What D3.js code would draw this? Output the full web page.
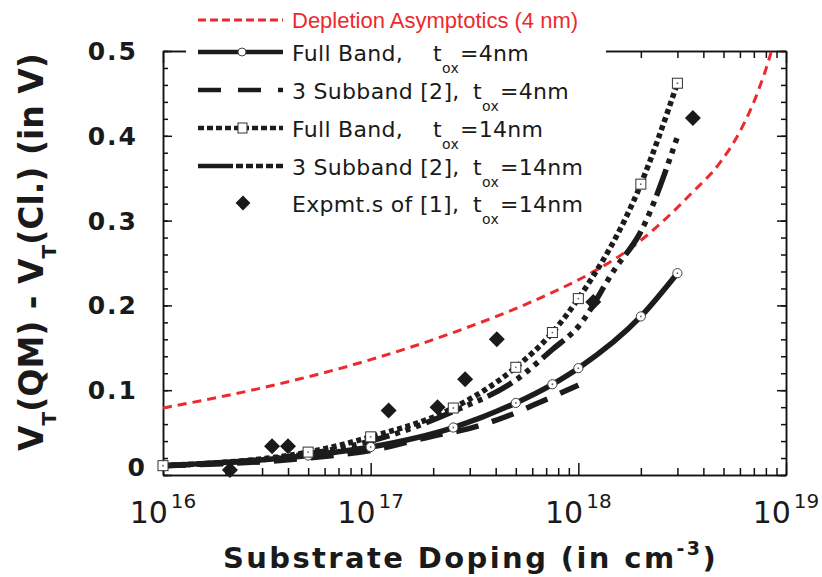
<!DOCTYPE html>
<html>
<head>
<meta charset="utf-8">
<script src="https://cdn.jsdelivr.net/npm/d3@7"></script>
<style>
body { margin: 0; background: #fff; }
svg text { font-family: "DejaVu Sans", sans-serif; fill: #1a1a1a; }
.axis path, .axis line { stroke: #111; stroke-width: 1.5; }
</style>
</head>
<body>
<svg width="822" height="577"></svg>
<script>
// values: doping in cm^-3, Vt shift in V
const fb4Doping = [1e16, 5e16, 1e17, 2.5e17, 5e17, 7.5e17, 1e18, 2e18, 3e18];
const fb4Shift = [0.011, 0.023, 0.033, 0.056, 0.085, 0.107, 0.126, 0.187, 0.238];
const sb4Doping = [1e16, 5e16, 1e17, 2e17, 3e17, 4.5e17, 6.7e17, 1e18];
const sb4Shift = [0.011, 0.020, 0.029, 0.046, 0.055, 0.069, 0.087, 0.106];
const fb14Doping = [1e16, 5e16, 1e17, 2.5e17, 5e17, 7.5e17, 1e18, 2e18, 3e18];
const fb14Shift = [0.011, 0.027, 0.045, 0.079, 0.127, 0.168, 0.208, 0.343, 0.462];
const sb14Doping = [1e16, 5e16, 1e17, 2.5e17, 5e17, 7.5e17, 1e18, 1.5e18, 2e18, 3e18];
const sb14Shift = [0.011, 0.025, 0.040, 0.075, 0.112, 0.148, 0.175, 0.243, 0.287, 0.399];
const deplDoping = [1e16, 3.16e16, 1e17, 2.5e17, 7e17, 1.15e18, 1.8e18, 2.5e18, 3.5e18, 4.8e18, 6e18, 7.4e18, 8.5e18, 9e18];
const deplShift = [0.079, 0.104, 0.136, 0.168, 0.212, 0.238, 0.268, 0.297, 0.332, 0.368, 0.405, 0.455, 0.500, 0.525];
const expDoping = [2.1e16, 3.35e16, 4.0e16, 1.22e17, 2.1e17, 2.85e17, 4.05e17, 1.18e18, 3.56e18];
const expShift = [0.006, 0.034, 0.034, 0.076, 0.080, 0.113, 0.160, 0.204, 0.421];

const yTicks = [0, 0.1, 0.2, 0.3, 0.4, 0.5];
const xDecades = [16, 17, 18, 19];
const legendLabels = ["Full Band,", "3 Subband [2],", "Full Band,", "3 Subband [2],", "Expmt.s of [1],"];
const legendSuffix = ["=4nm", "=4nm", "=14nm", "=14nm", "=14nm"];

const svg = d3.select("svg");
const L = 163, R = 786, T = 51, B = 475;
const x = d3.scaleLog().domain([1e16, 1e19]).range([L, R]);
const y = d3.scaleLinear().domain([0, 0.5]).range([B, T]);
const zip = (a, b) => a.map((d, i) => [d, b[i]]);

const minorX = [];
for (let e = 16; e < 19; e++) for (let m = 2; m <= 9; m++) minorX.push(m * Math.pow(10, e));
const minorY = d3.range(0, 0.501, 0.02);

function ax(gen, tx, ty) {
  svg.append("g").attr("class", "axis").attr("transform", `translate(${tx},${ty})`)
    .call(gen).call(g => g.selectAll("text").remove());
}
// minor then major ticks, all pointing inward
ax(d3.axisBottom(x).tickValues(minorX).tickSizeInner(-7).tickSizeOuter(0), 0, B);
ax(d3.axisBottom(x).tickValues(xDecades.map(e => Math.pow(10, e))).tickSizeInner(-12).tickSizeOuter(0), 0, B);
ax(d3.axisTop(x).tickValues(minorX).tickSizeInner(-7).tickSizeOuter(0), 0, T);
ax(d3.axisTop(x).tickValues(xDecades.map(e => Math.pow(10, e))).tickSizeInner(-12).tickSizeOuter(0), 0, T);
ax(d3.axisLeft(y).tickValues(minorY).tickSizeInner(-5).tickSizeOuter(0), L, 0);
ax(d3.axisLeft(y).tickValues(yTicks).tickSizeInner(-9).tickSizeOuter(0), L, 0);
ax(d3.axisRight(y).tickValues(minorY).tickSizeInner(-5).tickSizeOuter(0), R, 0);
ax(d3.axisRight(y).tickValues(yTicks).tickSizeInner(-9).tickSizeOuter(0), R, 0);

// y tick labels
svg.append("g").selectAll("text").data(yTicks).join("text")
  .attr("x", d => d === 0 ? 147 : 138)
  .attr("y", d => y(d) + (d === 0 ? 1 : 9))
  .attr("text-anchor", "end")
  .style("font-size", "25px").style("font-weight", "bold").style("letter-spacing", "2px")
  .text(d => d === 0 ? "0" : d3.format(".1f")(d));

// x tick labels 10^n
const xl = svg.append("g").selectAll("text").data(xDecades).join("text")
  .attr("x", d => x(Math.pow(10, d)))
  .attr("y", 523)
  .attr("text-anchor", "middle")
  .style("font-size", "30px");
xl.append("tspan").text("10");
xl.append("tspan").attr("dy", -15).attr("dx", 3).style("font-size", "20px").text(d => d);

// axis titles
const xt = svg.append("text").attr("x", (L + R) / 2 - 4).attr("y", 568).attr("text-anchor", "middle")
  .style("font-size", "29px").style("font-weight", "bold").style("letter-spacing", "2.4px");
xt.append("tspan").text("Substrate Doping (in cm");
xt.append("tspan").attr("dy", -13).style("font-size", "19px").text("-3");
xt.append("tspan").attr("dy", 13).text(")");

const yt = svg.append("text").attr("transform", "rotate(-90)").attr("x", -252).attr("y", 43)
  .attr("text-anchor", "middle").style("font-size", "33px").style("font-weight", "bold")
  .style("white-space", "pre");
yt.append("tspan").text("V");
yt.append("tspan").attr("dy", 13).style("font-size", "20px").text("T");
yt.append("tspan").attr("dy", -13).text("(QM) - V");
yt.append("tspan").attr("dy", 13).style("font-size", "20px").text("T");
yt.append("tspan").attr("dy", -13).text("(Cl.) (in V)");

// data
svg.append("clipPath").attr("id", "plot").append("rect")
  .attr("x", L).attr("y", T).attr("width", R - L).attr("height", B - T);
const plot = svg.append("g").attr("clip-path", "url(#plot)");
const marks = svg.append("g");
const line = d3.line().x(d => x(d[0])).y(d => y(d[1])).curve(d3.curveMonotoneX);

const series = [
  { pts: zip(deplDoping, deplShift), color: "#ec2a2e", w: 3, dash: "9,6" },
  { pts: zip(sb4Doping, sb4Shift), color: "#1c1c1c", w: 5.5, dash: "23,14" },
  { pts: zip(sb14Doping, sb14Shift), color: "#1c1c1c", w: 5.5, dash: "28,6,5,6,5,6,5,6" },
  { pts: zip(fb14Doping, fb14Shift), color: "#1c1c1c", w: 5.5, dash: "5,3.5" },
  { pts: zip(fb4Doping, fb4Shift), color: "#1c1c1c", w: 5.5, dash: null }
];
series.forEach(s => {
  plot.append("path").datum(s.pts).attr("d", line)
    .attr("fill", "none").attr("stroke", s.color).attr("stroke-width", s.w)
    .attr("stroke-dasharray", s.dash);
});

const diamond = d3.symbol(d3.symbolSquare, 128);
marks.append("g").selectAll("path").data(zip(expDoping, expShift)).join("path")
  .attr("d", diamond)
  .attr("transform", d => `translate(${x(d[0])},${y(d[1])}) rotate(45)`)
  .attr("fill", "#1a1a1a");

const fb4Marks = marks.append("g").selectAll("g").data(zip(fb4Doping, fb4Shift)).join("g")
  .attr("transform", d => `translate(${x(d[0])},${y(d[1])})`);
fb4Marks.append("circle").attr("r", 4.6).attr("fill", "#fff").attr("stroke", "#444").attr("stroke-width", 1);
fb4Marks.append("circle").attr("r", 0.9).attr("fill", "#666");

const fb14Marks = marks.append("g").selectAll("g").data(zip(fb14Doping, fb14Shift)).join("g")
  .attr("transform", d => `translate(${x(d[0])},${y(d[1])})`);
fb14Marks.append("rect").attr("x", -5).attr("y", -5).attr("width", 10).attr("height", 10)
  .attr("fill", "#fff").attr("stroke", "#333").attr("stroke-width", 1);
fb14Marks.append("circle").attr("r", 0.9).attr("fill", "#666");

// legend
svg.append("rect").attr("x", 186).attr("y", 36).attr("width", 420).attr("height", 186).attr("fill", "#fff");
const lg = svg.append("g");
const sx0 = 198, sx1 = 283, tx = 292;
const rowY = [20, 52, 90, 128, 166, 203];

lg.append("line").attr("x1", sx0).attr("x2", sx1).attr("y1", rowY[0]).attr("y2", rowY[0])
  .attr("stroke", series[0].color).attr("stroke-width", 3).attr("stroke-dasharray", "8,4");
lg.append("text").attr("x", tx).attr("y", rowY[0] + 8)
  .style("font-family", "'Liberation Sans', Arial, sans-serif").style("font-size", "22px")
  .style("fill", "#ec2a2e").text("Depletion Asymptotics (4 nm)");

const legendSeries = [series[4], series[1], series[3], series[2]];
legendSeries.forEach((s, i) => {
  const yy = rowY[i + 1];
  lg.append("line").attr("x1", sx0).attr("x2", sx1).attr("y1", yy).attr("y2", yy)
    .attr("stroke", s.color).attr("stroke-width", 4.5)
    .attr("stroke-dasharray", i === 1 ? "23,17" : i === 2 ? "6,3" : i === 3 ? "35,3,7,3,7,3,7,3,7,3" : null);
});
lg.append("circle").attr("cx", 242).attr("cy", rowY[1]).attr("r", 4).attr("fill", "#fff").attr("stroke", "#444");
lg.append("rect").attr("x", 238).attr("y", rowY[3] - 5).attr("width", 9).attr("height", 10)
  .attr("fill", "#fff").attr("stroke", "#333");
lg.append("path").attr("d", d3.symbol(d3.symbolSquare, 110))
  .attr("transform", `translate(243,${rowY[5]}) rotate(45)`).attr("fill", "#1a1a1a");

legendLabels.forEach((lab, i) => {
  const yy = rowY[i + 1] + 9;
  const t = lg.append("text").attr("x", tx).attr("y", yy).style("font-size", "22px").style("letter-spacing", "0.3px");
  const main = t.append("tspan").text(lab);
  const len = main.node().getComputedTextLength();
  // "t" sits on one of two tab stops
  const tPos = tx + len < 420 ? 433 : 473;
  t.append("tspan").attr("x", tPos).text("t");
  t.append("tspan").attr("x", tPos + 9).attr("dy", 12).style("font-size", "14px").text("ox");
  t.append("tspan").attr("x", tPos + 27).attr("dy", -12).text(legendSuffix[i]);
});
</script>
</body>
</html>
